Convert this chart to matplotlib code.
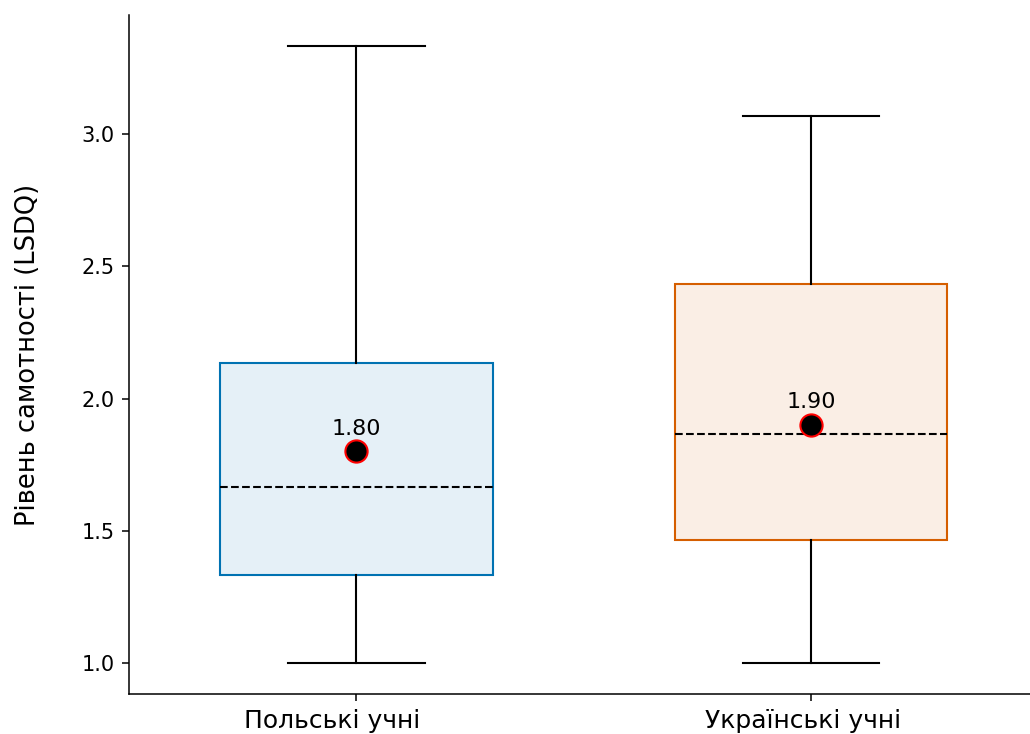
import matplotlib
matplotlib.use("Agg")
import matplotlib.pyplot as plt
from matplotlib.transforms import ScaledTranslation

# summary statistics
groups = ["Польські учні", "Українські учні"]
whislo = [1.0, 1.0]
q1 = [1.333, 1.467]
med = [1.667, 1.867]
q3 = [2.133, 2.433]
whishi = [3.333, 3.067]
means = [1.80, 1.90]
edge_colors = ["#0072B2", "#D55E00"]

stats = []
for i in range(len(groups)):
    stats.append({"label": groups[i], "whislo": whislo[i], "q1": q1[i], "med": med[i],
                  "q3": q3[i], "whishi": whishi[i], "mean": means[i], "fliers": []})

fig = plt.figure(figsize=(10.3, 7.34), dpi=100)
ax = fig.add_axes([0.1252, 0.0545, 0.883, 0.9251])

positions = list(range(len(groups)))
bp = ax.bxp(stats, positions=positions, widths=0.6, capwidths=0.3, patch_artist=True,
            showfliers=False, showmeans=False,
            medianprops=dict(color="black", linestyle="--", linewidth=1.5),
            whiskerprops=dict(color="black", linewidth=1.5),
            capprops=dict(color="black", linewidth=1.5))

for box, c in zip(bp["boxes"], edge_colors):
    box.set_facecolor(matplotlib.colors.to_rgba(c, 0.1))
    box.set_edgecolor(c)
    box.set_linewidth(1.5)

# means
ax.plot(positions, means, linestyle="none", marker="o", markersize=16,
        markerfacecolor="black", markeredgecolor="red", markeredgewidth=1.5, zorder=5)
for x, m in zip(positions, means):
    ax.annotate(f"{m:.2f}", (x, m), xytext=(0, 9), textcoords="offset points",
                ha="center", va="bottom", fontsize=16)

ax.set_xlim(-0.5, 1.5)
ax.set_ylim(0.883, 3.45)
ax.set_yticks([1.0, 1.5, 2.0, 2.5, 3.0])
ax.set_xticks(positions)
ax.set_xticklabels(groups, fontsize=18)
ax.tick_params(axis="y", labelsize=15)
ax.tick_params(length=5, width=1.1, pad=5.5)
ax.set_ylabel("Рівень самотності (LSDQ)", fontsize=18.5, labelpad=29)
for s in ["left", "bottom"]:
    ax.spines[s].set_linewidth(1.1)
ax.spines["top"].set_visible(False)
ax.spines["right"].set_visible(False)

# the labels in the original sit slightly left of their ticks
for lbl, dx in zip(ax.get_xticklabels(), [-24, -8]):
    lbl.set_transform(lbl.get_transform() + ScaledTranslation(dx / 100, 0, fig.dpi_scale_trans))

fig.savefig("out.png", dpi=100)
